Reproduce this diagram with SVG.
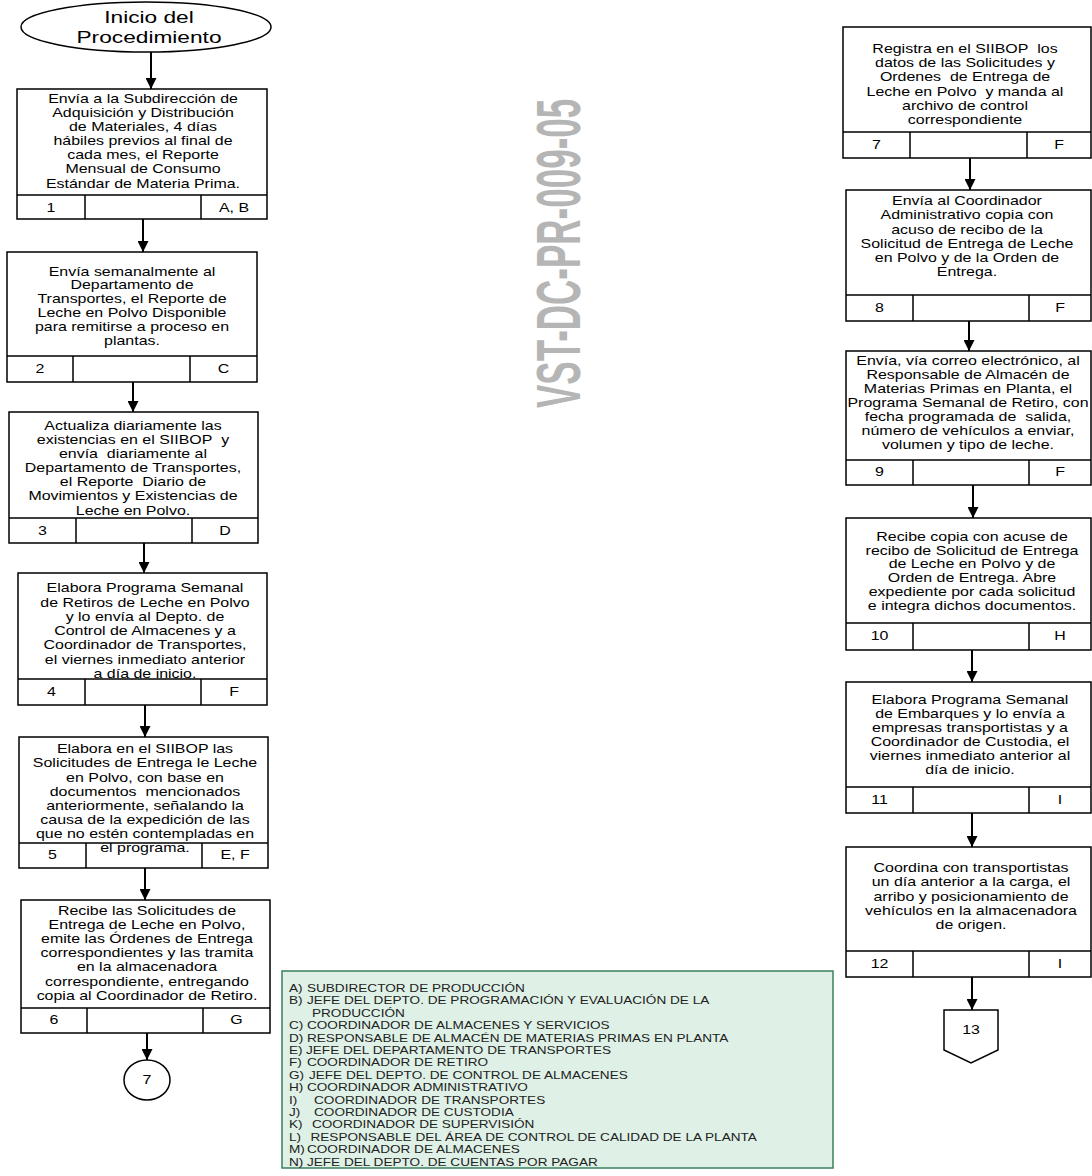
<svg xmlns="http://www.w3.org/2000/svg" width="1092" height="1176" viewBox="0 0 1092 1176">
<style>
.box{fill:#fff;stroke:#000;stroke-width:1.5}
.cell{fill:none;stroke:#000;stroke-width:1.5}
.t{font-family:"Liberation Sans",Arial,sans-serif;font-size:12px;fill:#000;text-anchor:middle}
.lg{font-family:"Liberation Sans",Arial,sans-serif;font-size:10px;fill:#222}
.wm{font-family:"Liberation Sans",Arial,sans-serif;font-weight:bold;font-size:35px;fill:#b5b5b5}
.conn line{stroke:#000;stroke-width:2;marker-end:url(#ah)}
</style>
<defs>
<marker id="ah" markerUnits="userSpaceOnUse" markerWidth="11" markerHeight="11" refX="10" refY="5" orient="auto" viewBox="0 0 10 10">
<path d="M0,0 L10,5 L0,10 z" fill="#000"/>
</marker>
</defs>

<text class="wm" transform="translate(580,408) rotate(-90) scale(1,1.8)" x="0" y="0">VST-DC-PR-009-05</text>

<g class="conn">
<line x1="151" y1="52" x2="151" y2="89"/>
<line x1="143" y1="219" x2="143" y2="252"/>
<line x1="133" y1="382" x2="133" y2="412"/>
<line x1="144" y1="543" x2="144" y2="573"/>
<line x1="145" y1="705" x2="145" y2="737"/>
<line x1="145" y1="868" x2="145" y2="900"/>
<line x1="147" y1="1033" x2="147" y2="1060"/>
<line x1="970" y1="158" x2="970" y2="190"/>
<line x1="969" y1="321" x2="969" y2="351"/>
<line x1="973" y1="485" x2="973" y2="518"/>
<line x1="972" y1="650" x2="972" y2="682"/>
<line x1="972" y1="813" x2="972" y2="847"/>
<line x1="972" y1="977" x2="972" y2="1010"/>
</g>

<g id="inicio">
<ellipse cx="146" cy="27" rx="125" ry="25" class="box"/>
<text class="t" style="font-size:16px" transform="translate(149,0) scale(1.42,1)"><tspan x="0" y="23">Inicio del</tspan><tspan x="0" y="43">Procedimiento</tspan></text>
</g>

<g id="n1">
<rect class="box" x="17" y="89" width="250" height="130"/>
<path class="cell" d="M17,195 H267 M85,195 V219 M201,195 V219"/>
<text class="t" transform="translate(143,0) scale(1.33,1)"><tspan x="0" y="103">Envía a la Subdirección de</tspan><tspan x="0" y="117.1">Adquisición y Distribución</tspan><tspan x="0" y="131.2">de Materiales, 4 días</tspan><tspan x="0" y="145.3">hábiles previos al final de</tspan><tspan x="0" y="159.4">cada mes, el Reporte</tspan><tspan x="0" y="173.5">Mensual de Consumo</tspan><tspan x="0" y="187.6">Estándar de Materia Prima.</tspan></text>
<text class="t" transform="translate(51,0) scale(1.33,1)" x="0" y="212">1</text>
<text class="t" transform="translate(234,0) scale(1.33,1)" x="0" y="212">A, B</text>
</g>

<g id="n2">
<rect class="box" x="7" y="252" width="250" height="130"/>
<path class="cell" d="M7,356 H257 M73,356 V382 M190,356 V382"/>
<text class="t" transform="translate(132,0) scale(1.33,1)"><tspan x="0" y="275.7">Envía semanalmente al</tspan><tspan x="0" y="289.5">Departamento de</tspan><tspan x="0" y="303.3">Transportes, el Reporte de</tspan><tspan x="0" y="317.1">Leche en Polvo Disponible</tspan><tspan x="0" y="330.9">para remitirse a proceso en</tspan><tspan x="0" y="344.7">plantas.</tspan></text>
<text class="t" transform="translate(40,0) scale(1.33,1)" x="0" y="373.5">2</text>
<text class="t" transform="translate(223.5,0) scale(1.33,1)" x="0" y="373.5">C</text>
</g>

<g id="n3">
<rect class="box" x="9" y="412" width="249" height="131"/>
<path class="cell" d="M9,518 H258 M76,518 V543 M192,518 V543"/>
<text class="t" transform="translate(133,0) scale(1.33,1)"><tspan x="0" y="430">Actualiza diariamente las</tspan><tspan x="0" y="444.1">existencias en el SIIBOP&#160; y</tspan><tspan x="0" y="458.2">envía&#160; diariamente al</tspan><tspan x="0" y="472.3">Departamento de Transportes,</tspan><tspan x="0" y="486.4">el Reporte&#160; Diario de</tspan><tspan x="0" y="500.5">Movimientos y Existencias de</tspan><tspan x="0" y="514.6">Leche en Polvo.</tspan></text>
<text class="t" transform="translate(42.5,0) scale(1.33,1)" x="0" y="535">3</text>
<text class="t" transform="translate(225,0) scale(1.33,1)" x="0" y="535">D</text>
</g>

<g id="n4">
<rect class="box" x="18" y="573" width="249" height="132"/>
<path class="cell" d="M18,679 H267 M85,679 V705 M201,679 V705"/>
<text class="t" transform="translate(145,0) scale(1.33,1)"><tspan x="0" y="592.3">Elabora Programa Semanal</tspan><tspan x="0" y="606.6">de Retiros de Leche en Polvo</tspan><tspan x="0" y="620.9">y lo envía al Depto. de</tspan><tspan x="0" y="635.2">Control de Almacenes y a</tspan><tspan x="0" y="649.5">Coordinador de Transportes,</tspan><tspan x="0" y="663.8">el viernes inmediato anterior</tspan><tspan x="0" y="678.1">a día de inicio.</tspan></text>
<text class="t" transform="translate(51.5,0) scale(1.33,1)" x="0" y="696">4</text>
<text class="t" transform="translate(234,0) scale(1.33,1)" x="0" y="696">F</text>
</g>

<g id="n5">
<rect class="box" x="19" y="737" width="249" height="131"/>
<path class="cell" d="M19,843 H268 M86,843 V868 M202,843 V868"/>
<text class="t" transform="translate(145,0) scale(1.33,1)"><tspan x="0" y="753.3">Elabora en el SIIBOP las</tspan><tspan x="0" y="767.5">Solicitudes de Entrega le Leche</tspan><tspan x="0" y="781.6">en Polvo, con base en</tspan><tspan x="0" y="795.8">documentos&#160; mencionados</tspan><tspan x="0" y="809.9">anteriormente, señalando la</tspan><tspan x="0" y="824.1">causa de la expedición de las</tspan><tspan x="0" y="838.2">que no estén contempladas en</tspan><tspan x="0" y="852.4">el programa.</tspan></text>
<text class="t" transform="translate(52.5,0) scale(1.33,1)" x="0" y="859.5">5</text>
<text class="t" transform="translate(235,0) scale(1.33,1)" x="0" y="859.5">E, F</text>
</g>

<g id="n6">
<rect class="box" x="21" y="900" width="249" height="133"/>
<path class="cell" d="M21,1008 H270 M87,1008 V1033 M203,1008 V1033"/>
<text class="t" transform="translate(147,0) scale(1.33,1)"><tspan x="0" y="914.7">Recibe las Solicitudes de</tspan><tspan x="0" y="928.9">Entrega de Leche en Polvo,</tspan><tspan x="0" y="943.1">emite las Órdenes de Entrega</tspan><tspan x="0" y="957.3">correspondientes y las tramita</tspan><tspan x="0" y="971.5">en la almacenadora</tspan><tspan x="0" y="985.7">correspondiente, entregando</tspan><tspan x="0" y="999.9">copia al Coordinador de Retiro.</tspan></text>
<text class="t" transform="translate(54,0) scale(1.33,1)" x="0" y="1024.5">6</text>
<text class="t" transform="translate(236.5,0) scale(1.33,1)" x="0" y="1024.5">G</text>
</g>

<g id="c7">
<ellipse class="box" cx="147" cy="1080" rx="23" ry="20"/>
<text class="t" transform="translate(147,0) scale(1.33,1)" x="0" y="1084.5">7</text>
</g>

<g id="n7">
<rect class="box" x="843" y="27" width="248" height="131"/>
<path class="cell" d="M843,132 H1091 M910,132 V158 M1027,132 V158"/>
<text class="t" transform="translate(965,0) scale(1.33,1)"><tspan x="0" y="53.3">Registra en el SIIBOP&#160; los</tspan><tspan x="0" y="67.4">datos de las Solicitudes y</tspan><tspan x="0" y="81.5">Ordenes&#160; de Entrega de</tspan><tspan x="0" y="95.6">Leche en Polvo&#160; y manda al</tspan><tspan x="0" y="109.7">archivo de control</tspan><tspan x="0" y="123.8">correspondiente</tspan></text>
<text class="t" transform="translate(876.5,0) scale(1.33,1)" x="0" y="149">7</text>
<text class="t" transform="translate(1059,0) scale(1.33,1)" x="0" y="149">F</text>
</g>

<g id="n8">
<rect class="box" x="846" y="190" width="245" height="131"/>
<path class="cell" d="M846,295 H1091 M913,295 V321 M1029,295 V321"/>
<text class="t" transform="translate(967,0) scale(1.33,1)"><tspan x="0" y="205">Envía al Coordinador</tspan><tspan x="0" y="219.3">Administrativo copia con</tspan><tspan x="0" y="233.6">acuso de recibo de la</tspan><tspan x="0" y="247.9">Solicitud de Entrega de Leche</tspan><tspan x="0" y="262.2">en Polvo y de la Orden de</tspan><tspan x="0" y="276.5">Entrega.</tspan></text>
<text class="t" transform="translate(879.5,0) scale(1.33,1)" x="0" y="312">8</text>
<text class="t" transform="translate(1060,0) scale(1.33,1)" x="0" y="312">F</text>
</g>

<g id="n9">
<rect class="box" x="846" y="351" width="245" height="134"/>
<path class="cell" d="M846,460 H1091 M913,460 V485 M1029,460 V485"/>
<text class="t" transform="translate(968,0) scale(1.33,1)"><tspan x="0" y="364.7">Envía, vía correo electrónico, al</tspan><tspan x="0" y="378.8">Responsable de Almacén de</tspan><tspan x="0" y="392.8">Materias Primas en Planta, el</tspan><tspan x="0" y="406.9">Programa Semanal de Retiro, con</tspan><tspan x="0" y="420.9">fecha programada de&#160; salida,</tspan><tspan x="0" y="435">número de vehículos a enviar,</tspan><tspan x="0" y="449">volumen y tipo de leche.</tspan></text>
<text class="t" transform="translate(879.5,0) scale(1.33,1)" x="0" y="476.5">9</text>
<text class="t" transform="translate(1060,0) scale(1.33,1)" x="0" y="476.5">F</text>
</g>

<g id="n10">
<rect class="box" x="846" y="518" width="245" height="132"/>
<path class="cell" d="M846,623 H1091 M913,623 V650 M1029,623 V650"/>
<text class="t" transform="translate(972,0) scale(1.33,1)"><tspan x="0" y="540.7">Recibe copia con acuse de</tspan><tspan x="0" y="554.6">recibo de Solicitud de Entrega</tspan><tspan x="0" y="568.5">de Leche en Polvo y de</tspan><tspan x="0" y="582.4">Orden de Entrega. Abre</tspan><tspan x="0" y="596.3">expediente por cada solicitud</tspan><tspan x="0" y="610.2">e integra dichos documentos.</tspan></text>
<text class="t" transform="translate(879.5,0) scale(1.33,1)" x="0" y="640.5">10</text>
<text class="t" transform="translate(1060,0) scale(1.33,1)" x="0" y="640.5">H</text>
</g>

<g id="n11">
<rect class="box" x="846" y="682" width="245" height="131"/>
<path class="cell" d="M846,787 H1091 M913,787 V813 M1029,787 V813"/>
<text class="t" transform="translate(970,0) scale(1.33,1)"><tspan x="0" y="704">Elabora Programa Semanal</tspan><tspan x="0" y="718">de Embarques y lo envía a</tspan><tspan x="0" y="732">empresas transportistas y a</tspan><tspan x="0" y="746">Coordinador de Custodia, el</tspan><tspan x="0" y="760">viernes inmediato anterior al</tspan><tspan x="0" y="774">día de inicio.</tspan></text>
<text class="t" transform="translate(879.5,0) scale(1.33,1)" x="0" y="804">11</text>
<text class="t" transform="translate(1060,0) scale(1.33,1)" x="0" y="804">I</text>
</g>

<g id="n12">
<rect class="box" x="846" y="847" width="245" height="130"/>
<path class="cell" d="M846,951 H1091 M913,951 V977 M1029,951 V977"/>
<text class="t" transform="translate(971,0) scale(1.33,1)"><tspan x="0" y="872.3">Coordina con transportistas</tspan><tspan x="0" y="886.5">un día anterior a la carga, el</tspan><tspan x="0" y="900.7">arribo y posicionamiento de</tspan><tspan x="0" y="914.9">vehículos en la almacenadora</tspan><tspan x="0" y="929.1">de origen.</tspan></text>
<text class="t" transform="translate(879.5,0) scale(1.33,1)" x="0" y="968">12</text>
<text class="t" transform="translate(1060,0) scale(1.33,1)" x="0" y="968">I</text>
</g>

<g id="c13">
<path class="box" d="M944,1010 H998 V1050 L971,1063 L944,1050 Z"/>
<text class="t" transform="translate(971,0) scale(1.33,1)" x="0" y="1034">13</text>
</g>

<g id="legend">
<rect x="282" y="971" width="551" height="197" fill="#dff1e7" stroke="#3b7f5e" stroke-width="1.5"/>
<g transform="translate(289,0) scale(1.36,1)">
<text class="lg" y="992"><tspan x="0">A)</tspan><tspan x="13.2">SUBDIRECTOR DE PRODUCCIÓN</tspan></text>
<text class="lg" y="1004.4"><tspan x="0">B)</tspan><tspan x="13.2">JEFE DEL DEPTO. DE PROGRAMACIÓN Y EVALUACIÓN DE LA</tspan></text>
<text class="lg" y="1016.8"><tspan x="16.9">PRODUCCIÓN</tspan></text>
<text class="lg" y="1029.2"><tspan x="0">C)</tspan><tspan x="13.2">COORDINADOR DE ALMACENES Y SERVICIOS</tspan></text>
<text class="lg" y="1041.6"><tspan x="0">D)</tspan><tspan x="13.2">RESPONSABLE DE ALMACÉN DE MATERIAS PRIMAS EN PLANTA</tspan></text>
<text class="lg" y="1054"><tspan x="0">E)</tspan><tspan x="12.5">JEFE DEL DEPARTAMENTO DE TRANSPORTES</tspan></text>
<text class="lg" y="1066.4"><tspan x="0">F)</tspan><tspan x="13.2">COORDINADOR DE RETIRO</tspan></text>
<text class="lg" y="1078.8"><tspan x="0">G)</tspan><tspan x="14.7">JEFE DEL DEPTO. DE CONTROL DE ALMACENES</tspan></text>
<text class="lg" y="1091.2"><tspan x="0">H)</tspan><tspan x="13.2">COORDINADOR ADMINISTRATIVO</tspan></text>
<text class="lg" y="1103.6"><tspan x="0">I)</tspan><tspan x="18.4">COORDINADOR DE TRANSPORTES</tspan></text>
<text class="lg" y="1116"><tspan x="0">J)</tspan><tspan x="18.4">COORDINADOR DE CUSTODIA</tspan></text>
<text class="lg" y="1128.4"><tspan x="0">K)</tspan><tspan x="16.9">COORDINADOR DE SUPERVISIÓN</tspan></text>
<text class="lg" y="1140.8"><tspan x="0">L)</tspan><tspan x="15.8">RESPONSABLE DEL ÁREA DE CONTROL DE CALIDAD DE LA PLANTA</tspan></text>
<text class="lg" y="1153.2"><tspan x="0">M)</tspan><tspan x="13.2">COORDINADOR DE ALMACENES</tspan></text>
<text class="lg" y="1165.6"><tspan x="0">N)</tspan><tspan x="13.2">JEFE DEL DEPTO. DE CUENTAS POR PAGAR</tspan></text>
</g>
</g>
</svg>
